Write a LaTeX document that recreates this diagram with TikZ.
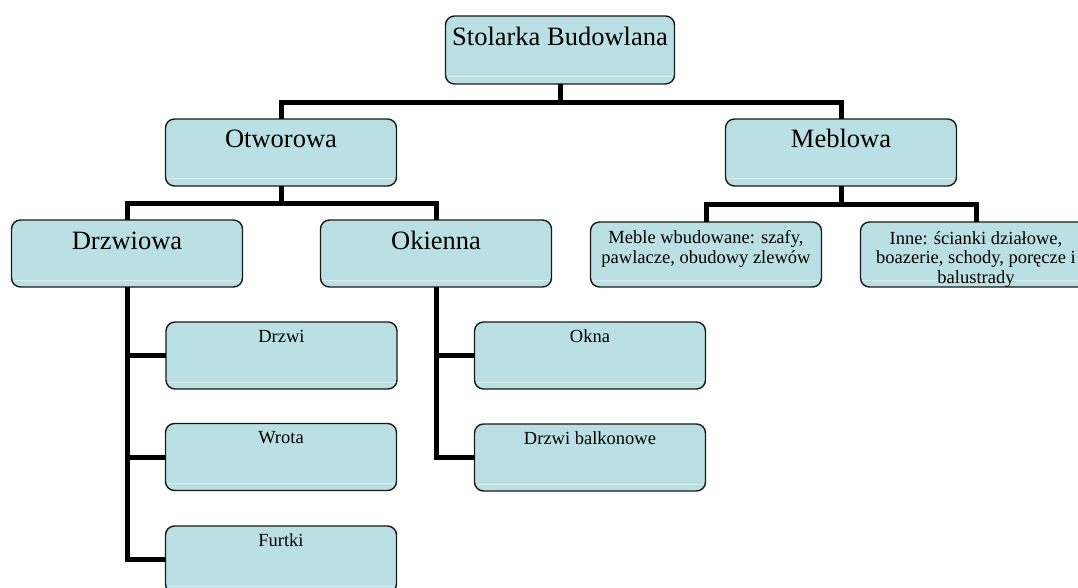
\documentclass[tikz,border=0pt]{standalone}
\usepackage{fontspec}
\setmainfont{Liberation Serif}
\usetikzlibrary{calc}
\definecolor{boxfill}{RGB}{187,224,227}
\definecolor{boxline}{RGB}{25,25,25}
\definecolor{sheen}{RGB}{216,237,239}
\begin{document}
\begin{tikzpicture}[x=1pt,y=-1pt,
  box/.style={draw=boxline, line width=1.4pt, fill=boxfill, rounded corners=9pt,
    minimum width=231pt, minimum height=67pt, inner sep=0pt, outer sep=0pt},
  conn/.style={line width=5pt, draw=black},
  bigtxt/.style={font=\fontsize{26.5}{30}\selectfont, anchor=base, inner sep=0pt},
  smalltxt/.style={font=\fontsize{18.5}{19.5}\selectfont, anchor=base, inner sep=0pt, align=center},
  sheenline/.style={draw=sheen, line width=1pt}]
\useasboundingbox (0,0) rectangle (1078,588);
\clip (0,0) rectangle (1078,588);
% boxes
\node[box, minimum width=229pt, minimum height=68pt] (top) at (560,50) {};
\node[box] (otw) at (281,152.5) {};
\node[box] (meb) at (841,152.5) {};
\node[box] (dw) at (127,253.5) {};
\node[box] (ok) at (436,253.5) {};
\node[box, minimum height=65pt] (mw) at (706,254.5) {};
\node[box, minimum height=65pt] (inne) at (976,254.5) {};
\node[box] (drzwi) at (281.5,355.5) {};
\node[box] (wrota) at (281,457) {};
\node[box] (furtki) at (281,559.5) {};
\node[box] (okna) at (590,355.5) {};
\node[box] (balk) at (590,457.5) {};
% sheen lines
\foreach \b in {top,otw,meb,dw,ok,mw,inne,drzwi,wrota,furtki,okna,balk}{
  \draw[sheenline] ($(\b.south west)+(1.5,-7)$) -- ($(\b.south east)+(-1.5,-7)$);
}
% connectors
\draw[conn] (top.south) -- ++(0,19) -| (otw.north);
\draw[conn] (top.south) -- ++(0,19) -| (meb.north);
\draw[conn] (otw.south) -- ++(0,17) -| (dw.north);
\draw[conn] (otw.south) -- ++(0,17) -| (ok.north);
\draw[conn] (meb.south) -- ++(0,18) -| (mw.north);
\draw[conn] (meb.south) -- ++(0,18) -| (inne.north);
\draw[conn] (dw.south) |- (drzwi.west);
\draw[conn] (dw.south) |- (wrota.west);
\draw[conn] (dw.south) |- (furtki.west);
\draw[conn] (ok.south) |- (okna.west);
\draw[conn] (ok.south) |- (balk.west);
% texts
\path (top.north) ++(0,30) node[bigtxt] {Stolarka Budowlana};
\path (otw.north) ++(0,28.5) node[bigtxt] {Otworowa};
\path (meb.north) ++(0,28.5) node[bigtxt] {Meblowa};
\path (dw.north) ++(0,29) node[bigtxt] {Drzwiowa};
\path (ok.north) ++(0,29) node[bigtxt] {Okienna};
\path (drzwi.north) ++(0,20) node[smalltxt] {Drzwi};
\path (wrota.north) ++(0,20) node[smalltxt] {Wrota};
\path (furtki.north) ++(0,20) node[smalltxt] {Furtki};
\path (okna.north) ++(0,20) node[smalltxt] {Okna};
\path (balk.north) ++(0,20) node[smalltxt] {Drzwi balkonowe};
\path (mw.north) ++(0,41) node[smalltxt] {Meble wbudowane: szafy,\\pawlacze, obudowy zlewów};
\begin{scope}
  \clip (inne.north west) rectangle (inne.south east);
  \path (inne.north) ++(0,61) node[smalltxt] {Inne: ścianki działowe,\\boazerie, schody, poręcze i\\balustrady};
\end{scope}
\end{tikzpicture}
\end{document}
